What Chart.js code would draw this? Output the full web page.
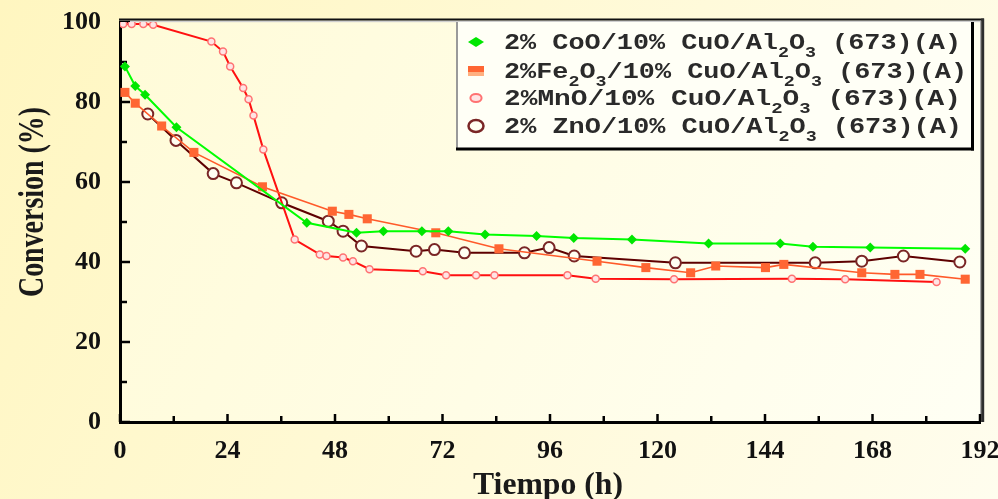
<!DOCTYPE html>
<html><head><meta charset="utf-8">
<script src="https://cdn.jsdelivr.net/npm/chart.js@4/dist/chart.umd.min.js"></script>
<style>html,body{margin:0;padding:0;background:#fffbe0;overflow:hidden}canvas{display:block}</style>
</head><body>
<canvas id="c" width="998" height="499"></canvas>
<script>
// ---- data ----
const xTickLabels = [0,24,48,72,96,120,144,168,192];
const yTickLabels = [0,20,40,60,80,100];
const xTitle = 'Tiempo (h)';
const yTitle = 'Conversion (%)';
const seriesLabels = [
  '2% CoO/10% CuO/Al2O3 (673)(A)',
  '2%Fe2O3/10% CuO/Al2O3 (673)(A)',
  '2%MnO/10% CuO/Al2O3 (673)(A)',
  '2% ZnO/10% CuO/Al2O3 (673)(A)'
];
// legend text pieces: [text, isSubscript]
const legendParts = [
  [['2% CoO/10% CuO/Al',0],['2',1],['O',0],['3',1],[' (673)(A)',0]],
  [['2%Fe',0],['2',1],['O',0],['3',1],['/10% CuO/Al',0],['2',1],['O',0],['3',1],[' (673)(A)',0]],
  [['2%MnO/10% CuO/Al',0],['2',1],['O',0],['3',1],[' (673)(A)',0]],
  [['2% ZnO/10% CuO/Al',0],['2',1],['O',0],['3',1],[' (673)(A)',0]]
];
const coTime = [1.1,3.4,5.6,12.6,41.7,52.8,58.8,67.4,73.3,81.5,93,101.3,114.3,131.4,147.4,154.7,167.5,188.7];
const coConv = [88.9,84,81.8,73.7,49.8,47.3,47.7,47.7,47.7,46.9,46.5,46,45.6,44.6,44.6,43.8,43.6,43.3];
const feTime = [1.1,3.4,9.3,16.5,31.8,47.4,51.1,55.2,70.5,84.6,106.5,117.4,127.4,133,144.1,148.2,165.6,173,178.6,188.7];
const feConv = [82.4,79.7,74,67.4,58.8,52.7,51.9,50.8,47.3,43.3,40.2,38.6,37.3,39,38.6,39.4,37.3,36.9,36.9,35.7];
const mnTime = [0.7,2.6,5.2,7.4,20.4,23,24.6,27.5,28.7,29.8,32,39,44.6,46.1,49.8,52,55.7,67.6,72.8,79.5,83.6,99.9,106.2,123.7,150,161.9,182.3];
const mnConv = [99.5,99.5,99.5,99.3,95.1,92.6,88.9,83.5,80.7,76.6,68.1,45.6,41.9,41.5,41.1,40.2,38.2,37.7,36.7,36.7,36.7,36.7,35.8,35.7,35.8,35.7,35];
const znTime = [6.2,12.5,20.8,26,36.1,46.5,49.8,53.9,66.1,70.2,76.9,90.3,95.8,101.4,124,155.2,165.6,174.9,187.5];
const znConv = [77,70.4,62.1,59.8,54.8,50.2,47.7,44,42.7,43.1,42.3,42.3,43.6,41.5,39.8,39.8,40.2,41.5,40];

const pts = (t, v) => t.map((x, i) => ({x: x, y: v[i]}));

// ---- marker helper ----
function marker(ctx, style, x, y, r, fill, stroke, bw, sx) {
  ctx.save();
  ctx.translate(x, y);
  ctx.scale(sx || 1, 1);
  ctx.beginPath();
  if (style === 'rectRot') { ctx.moveTo(0,-r); ctx.lineTo(r,0); ctx.lineTo(0,r); ctx.lineTo(-r,0); ctx.closePath(); }
  else if (style === 'rect') { ctx.rect(-r, -r*0.65, 2*r, 1.3*r); }
  else { ctx.arc(0, 0, r, 0, Math.PI*2); }
  ctx.restore();
  if (fill) { ctx.fillStyle = fill; ctx.fill(); }
  if (stroke && bw) { ctx.strokeStyle = stroke; ctx.lineWidth = bw; ctx.stroke(); }
}

const bgPlugin = {
  id: 'bg',
  beforeDraw(chart) {
    const {ctx, chartArea: a, width, height} = chart;
    ctx.save();
    const g = ctx.createLinearGradient(0, 0, width, height);
    g.addColorStop(0, '#fff6c0'); g.addColorStop(1, '#fffdee');
    ctx.fillStyle = g; ctx.fillRect(0, 0, width, height);
    const g2 = ctx.createLinearGradient(a.left, a.top, a.right, a.bottom);
    g2.addColorStop(0, '#fffbd8'); g2.addColorStop(1, '#fffff4');
    ctx.fillStyle = g2; ctx.fillRect(a.left, a.top, a.right - a.left, a.bottom - a.top);
    ctx.restore();
  },
  beforeDatasetsDraw(chart) {
    const {ctx, chartArea: a, scales: {x, y}} = chart;
    ctx.save();
    ctx.fillStyle = '#111'; ctx.fillRect(a.left - 1, a.top - 3.5, a.right - a.left + 5, 2.2);
    ctx.fillStyle = '#cfcfcf'; ctx.fillRect(a.left, a.top - 1.3, a.right - a.left, 1.5);
    ctx.fillStyle = '#a8a8a8'; ctx.fillRect(a.right, a.top - 1.5, 1.2, a.bottom - a.top + 1.5);
    ctx.fillStyle = '#2e2e2e'; ctx.fillRect(a.right + 1.2, a.top - 3.5, 3, a.bottom - a.top + 3.5);
    ctx.strokeStyle = '#000'; ctx.lineWidth = 2.5;
    x.ticks.forEach(t => {
      const px = x.getPixelForValue(t.value);
      const len = t.value % 24 === 0 ? 8 : 6;
      ctx.beginPath(); ctx.moveTo(px, a.bottom); ctx.lineTo(px, a.bottom - len); ctx.stroke();
    });
    y.ticks.forEach(t => {
      const py = y.getPixelForValue(t.value);
      const len = t.value % 20 === 0 ? 10 : 7;
      ctx.beginPath(); ctx.moveTo(a.left, py); ctx.lineTo(a.left + len, py); ctx.stroke();
    });
    ctx.restore();
  },
  afterDatasetsDraw(chart) {
    const {ctx, chartArea: a} = chart;
    const L = 457, T = a.top, R = 973, B = 149;
    ctx.save();
    ctx.fillStyle = '#fffff6'; ctx.fillRect(L, T, R - L, B - T);
    ctx.fillStyle = '#9a9a9a'; ctx.fillRect(L - 1, T, 2, B - T);
    ctx.fillStyle = '#000'; ctx.fillRect(R - 2, T, 3, B - T + 1.5);
    ctx.fillRect(L - 1, B - 1.5, R - L + 2, 3);
    const ds = chart.data.datasets;
    const rowsY = [42, 71, 98, 126];
    const baseY = [49, 78, 105, 133];
    const widths = [457, 463, 457, 458];
    const mx = 476;
    marker(ctx, 'rectRot', mx, rowsY[0], 5, ds[0].backgroundColor, null, 0, 1.6);
    ctx.fillStyle = '#ff6633'; ctx.fillRect(mx - 8, rowsY[1] - 5, 16, 6);
    ctx.fillStyle = '#ffb080'; ctx.fillRect(mx - 8, rowsY[1] + 1, 16, 4);
    marker(ctx, 'circle', mx, rowsY[2], 4, ds[2].pointBackgroundColor, ds[2].pointBorderColor, 2, 1.4);
    marker(ctx, 'circle', mx, rowsY[3], 6, ds[3].pointBackgroundColor, ds[3].pointBorderColor, 2.5, 1.25);
    const mainF = 'bold 22px "Liberation Mono"', subF = 'bold 15px "Liberation Mono"';
    ctx.fillStyle = '#2a2a2a';
    ctx.textBaseline = 'alphabetic'; ctx.textAlign = 'left';
    legendParts.forEach((parts, i) => {
      let w = 0;
      parts.forEach(p => { ctx.font = p[1] ? subF : mainF; w += ctx.measureText(p[0]).width; });
      const sx = widths[i] / w;
      ctx.save();
      ctx.translate(504, baseY[i]);
      ctx.scale(sx, 1);
      let cx = 0;
      parts.forEach(p => {
        ctx.font = p[1] ? subF : mainF;
        ctx.fillText(p[0], cx, p[1] ? 8 : 0);
        cx += ctx.measureText(p[0]).width;
      });
      ctx.restore();
    });
    ctx.restore();
  },
  afterDraw(chart) {
    const {ctx} = chart;
    ctx.save();
    ctx.fillStyle = '#1a1a1a';
    ctx.textAlign = 'center'; ctx.textBaseline = 'alphabetic';
    ctx.font = 'bold 36px "Liberation Serif"';
    let w = ctx.measureText(yTitle).width;
    ctx.translate(43, 202); ctx.rotate(-Math.PI / 2); ctx.scale(190 / w, 1);
    ctx.fillText(yTitle, 0, 0);
    ctx.restore();
    ctx.save();
    ctx.fillStyle = '#1a1a1a';
    ctx.textAlign = 'center'; ctx.textBaseline = 'alphabetic';
    ctx.font = 'bold 32px "Liberation Serif"';
    w = ctx.measureText(xTitle).width;
    ctx.translate(548, 494); ctx.scale(150 / w, 1);
    ctx.fillText(xTitle, 0, 0);
    ctx.restore();
  }
};

const tickFont = {family: '"Liberation Serif"', size: 26, weight: 'bold'};

new Chart(document.getElementById('c'), {
  type: 'line',
  data: {
    datasets: [
      {label: seriesLabels[0], data: pts(coTime, coConv), borderColor: '#00ff00', backgroundColor: '#00e600',
       borderWidth: 2, pointStyle: 'rectRot', pointRadius: 5, pointBorderWidth: 0, pointBackgroundColor: '#00e600'},
      {label: seriesLabels[1], data: pts(feTime, feConv), borderColor: '#ff5a2a', backgroundColor: '#ff6633',
       borderWidth: 1.6, pointStyle: 'rect', pointRadius: 6.4, pointBorderWidth: 0, pointBackgroundColor: '#ff6633'},
      {label: seriesLabels[2], data: pts(mnTime, mnConv), borderColor: '#ff1010', backgroundColor: '#ffe0e0',
       borderWidth: 2, pointStyle: 'circle', pointRadius: 3.5, pointBorderWidth: 1.5,
       pointBorderColor: '#ff7272', pointBackgroundColor: '#ffe4e4'},
      {label: seriesLabels[3], data: pts(znTime, znConv), borderColor: '#5e0000', backgroundColor: '#fffff2',
       borderWidth: 2, pointStyle: 'circle', pointRadius: 5.5, pointBorderWidth: 2,
       pointBorderColor: '#7a2626', pointBackgroundColor: '#fffff2'}
    ]
  },
  options: {
    responsive: false, animation: false, devicePixelRatio: 1,
    layout: {padding: {top: 22, right: 18, left: 0, bottom: 0}},
    plugins: {legend: {display: false}, tooltip: {enabled: false}},
    elements: {line: {tension: 0}},
    scales: {
      x: {
        type: 'linear', min: 0, max: 192,
        afterFit(s) { s.height = 77; s.paddingLeft = 0; s.paddingRight = 0; },
        afterBuildTicks(s) { s.ticks = []; for (let v = 0; v <= 192; v += 12) s.ticks.push({value: v}); },
        ticks: {autoSkip: false, maxRotation: 0, font: tickFont, color: '#111', padding: 14,
                callback: v => xTickLabels.includes(v) ? String(v) : ''},
        grid: {display: false, drawTicks: false},
        border: {display: true, color: '#000', width: 3}
      },
      y: {
        min: 0, max: 100,
        afterFit(s) { s.width = 120; s.paddingTop = 0; s.paddingBottom = 0; },
        afterBuildTicks(s) { s.ticks = []; for (let v = 0; v <= 100; v += 10) s.ticks.push({value: v}); },
        ticks: {autoSkip: false, font: tickFont, color: '#111', padding: 19,
                callback: v => yTickLabels.includes(v) ? String(v) : ''},
        grid: {display: false, drawTicks: false},
        border: {display: true, color: '#000', width: 3}
      }
    }
  },
  plugins: [bgPlugin]
});
</script>
</body></html>
